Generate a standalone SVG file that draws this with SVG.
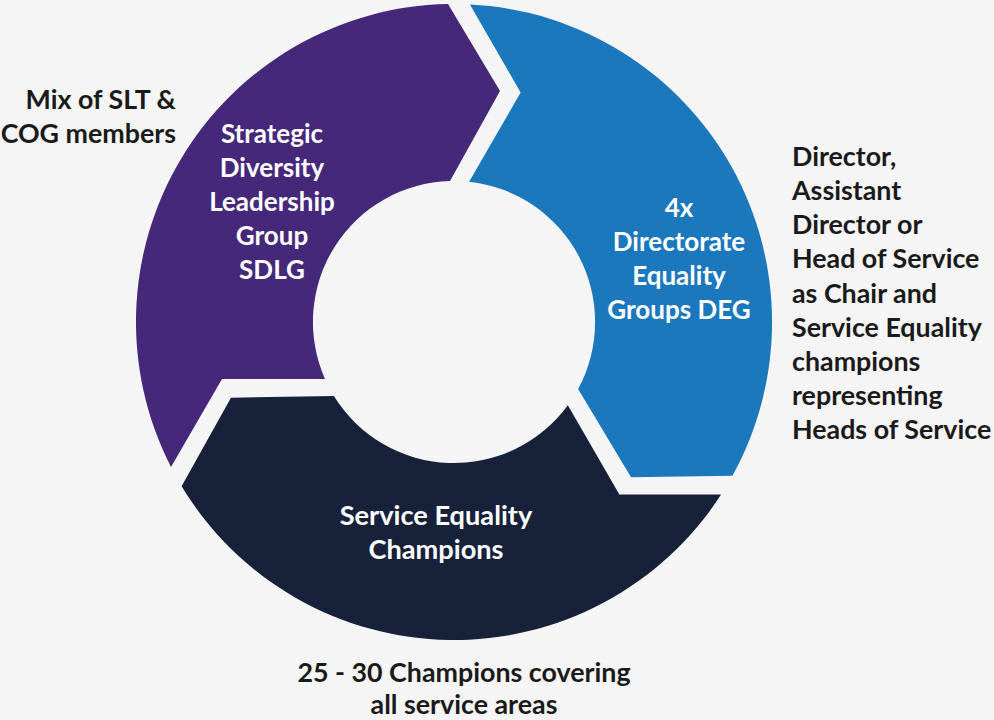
<svg xmlns="http://www.w3.org/2000/svg" width="994" height="720" viewBox="0 0 994 720">
  <defs>
    <style>
      .lbl { font-family: Lato, "Liberation Sans", sans-serif; font-weight: 700; font-size: 26px; fill: #ffffff; text-anchor: middle; }
      .lbl-big { font-size: 27.2px; }
      .note { font-family: Lato, "Liberation Sans", sans-serif; font-weight: 700; font-size: 26.8px; fill: #1a1a1a; }
    </style>
    <path id="seg" d="M171,467 A318,318 0 0 1 448,4 L500,91 L450,181 A141,141 0 0 0 325,379 L222,379 Z"/>
  </defs>
  <rect x="0" y="0" width="994" height="720" fill="#f5f5f5"/>

  <g id="sdlg">
    <use href="#seg" fill="#45287a"/>
    <text class="lbl"><tspan x="272" y="143">Strategic</tspan><tspan x="272" y="177">Diversity</tspan><tspan x="272" y="211">Leadership</tspan><tspan x="272" y="245">Group</tspan><tspan x="272" y="279">SDLG</tspan></text>
  </g>

  <g id="deg">
    <use href="#seg" fill="#1c78bd" transform="rotate(120 454 322)"/>
    <text class="lbl"><tspan x="679" y="217">4x</tspan><tspan x="679" y="251">Directorate</tspan><tspan x="679" y="285">Equality</tspan><tspan x="679" y="319">Groups DEG</tspan></text>
  </g>

  <g id="sec">
    <use href="#seg" fill="#17223a" transform="rotate(240 454 322)"/>
    <text class="lbl lbl-big"><tspan x="436" y="525">Service Equality</tspan><tspan x="436" y="559">Champions</tspan></text>
  </g>

  <g id="connectors"/>

  <g id="note-sdlg">
    <text class="note" text-anchor="end"><tspan x="176" y="109">Mix of SLT &amp;</tspan><tspan x="176" y="143">COG members</tspan></text>
  </g>

  <g id="note-deg">
    <text class="note"><tspan x="792" y="166">Director,</tspan><tspan x="792" y="200">Assistant</tspan><tspan x="792" y="234">Director or</tspan><tspan x="792" y="268">Head of Service</tspan><tspan x="792" y="303">as Chair and</tspan><tspan x="792" y="337">Service Equality</tspan><tspan x="792" y="371">champions</tspan><tspan x="792" y="405">representing</tspan><tspan x="792" y="439">Heads of Service</tspan></text>
  </g>

  <g id="note-sec">
    <text class="note" text-anchor="middle"><tspan x="464" y="682">25 - 30 Champions covering</tspan><tspan x="464" y="714">all service areas</tspan></text>
  </g>
</svg>
